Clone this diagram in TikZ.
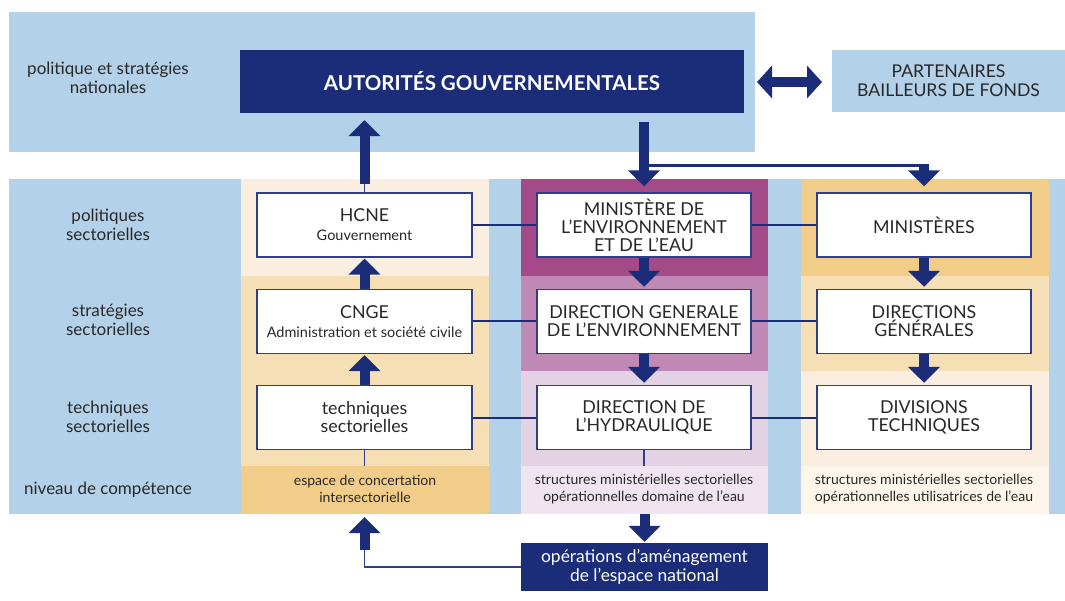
\documentclass[tikz,border=0pt]{standalone}
\usepackage{fontspec}
\setmainfont{Lato}
\usetikzlibrary{arrows.meta}

\definecolor{navy}{RGB}{27,45,120}
\definecolor{boxline}{RGB}{44,62,140}
\definecolor{bandblue}{RGB}{179,209,232}
\definecolor{ink}{RGB}{40,40,40}
% column 1 (concertation)
\definecolor{beigeA}{RGB}{250,238,224}
\definecolor{beigeB}{RGB}{246,223,181}
\definecolor{beigeC}{RGB}{242,205,137}
\definecolor{beigeD}{RGB}{253,245,234}
% column 2 (eau)
\definecolor{plumA}{RGB}{165,74,137}
\definecolor{plumB}{RGB}{192,136,180}
\definecolor{plumC}{RGB}{226,210,227}
\definecolor{plumD}{RGB}{239,228,239}

\newcommand\sublinefont{\fontsize{14.5}{16}\selectfont}

\begin{document}
\begin{tikzpicture}[x=1pt,y=-1pt,
  panel/.style={fill=#1,draw=none},
  unitbox/.style={draw=boxline,line width=1.4pt,fill=white,
    minimum width=214pt,minimum height=64pt,inner sep=0pt,align=center,
    text=ink,font=\fontsize{17.8}{18}\selectfont},
  darkbox/.style={fill=navy,draw=none,inner sep=0pt,align=center,text=white},
  rowlabel/.style={align=center,text=ink,font=\fontsize{17}{18.5}\selectfont},
  foot/.style={align=center,text=ink,font=\fontsize{14}{17}\selectfont},
  bigarrow/.style={draw=navy,line width=10pt,
    -{Triangle[width=31pt,length=16pt]}},
  twoway/.style={draw=navy,line width=10pt,
    {Triangle[width=32pt,length=15pt]}-{Triangle[width=32pt,length=15pt]}},
  link/.style={draw=navy,line width=2pt},
  feed/.style={draw=boxline,line width=1.4pt}]

\useasboundingbox (0,0) rectangle (1065,601);

% ---- background bands ----
\fill[bandblue] (9,12) rectangle (755,152);
\fill[bandblue] (9,179) rectangle (1065,514);

% column 1
\fill[beigeA] (241,179) rectangle (489,276);
\fill[beigeB] (241,276) rectangle (489,466);
\fill[beigeC] (241,466) rectangle (489,514);
% column 2
\fill[plumA] (521,179) rectangle (768,276);
\fill[plumB] (521,276) rectangle (768,371);
\fill[plumC] (521,371) rectangle (768,466);
\fill[plumD] (521,466) rectangle (768,514);
% column 3
\fill[beigeC] (801,179) rectangle (1049,276);
\fill[beigeB] (801,276) rectangle (1049,371);
\fill[beigeA] (801,371) rectangle (1049,466);
\fill[beigeD] (801,466) rectangle (1049,514);

% ---- top level ----
\node[darkbox,minimum width=504pt,minimum height=63pt,
      font=\bfseries\fontsize{20.5}{22}\selectfont] (aut) at (492,81.5)
      {AUTORITÉS GOUVERNEMENTALES};
\node[panel=bandblue,minimum width=233pt,minimum height=62pt,inner sep=0pt,
      align=center,text=ink,font=\fontsize{17.6}{19}\selectfont] (part) at (948.5,81)
      {PARTENAIRES\\BAILLEURS DE FONDS};
\draw[twoway] (757,82) -- (822,82);

% ---- row labels ----
\node[rowlabel] (lnat)  at (108,78)  {politique et stratégies\\nationales};
\node[rowlabel] (lpol)  at (108,225) {politiques\\sectorielles};
\node[rowlabel] (lstr)  at (108,320) {stratégies\\sectorielles};
\node[rowlabel] (ltech) at (108,417) {techniques\\sectorielles};
\node[rowlabel] (lniv)  at (108,490) {niveau de compétence};

% ---- boxes ----
\node[unitbox,minimum width=215pt] (hcne) at (364.5,225)
  {HCNE\\[1pt]{\sublinefont Gouvernement}};
\node[unitbox,minimum width=215pt] (cnge) at (364.5,321.5)
  {CNGE\\[1pt]{\sublinefont Administration et société civile}};
\node[unitbox,minimum width=215pt] (tech) at (364.5,417.5)
  {techniques\\sectorielles};

\node[unitbox] (mee) at (644,225)
  {MINISTÈRE DE\\L’ENVIRONNEMENT\\ET DE L’EAU};
\node[unitbox] (dge) at (644,321.5)
  {DIRECTION GENERALE\\DE L’ENVIRONNEMENT};
\node[unitbox] (dh) at (644,417.5)
  {DIRECTION DE\\L’HYDRAULIQUE};

\node[unitbox] (min) at (924,225) {MINISTÈRES};
\node[unitbox] (dirg) at (924,321.5) {DIRECTIONS\\GÉNÉRALES};
\node[unitbox] (div) at (924,417.5) {DIVISIONS\\TECHNIQUES};

% ---- footer texts ----
\node[foot] (fconc) at (365,489) {espace de concertation\\intersectorielle};
\node[foot] (feau)  at (644,489) {structures ministérielles sectorielles\\opérationnelles domaine de l’eau};
\node[foot] (futil) at (924,489) {structures ministérielles sectorielles\\opérationnelles utilisatrices de l’eau};

\node[darkbox,minimum width=247pt,minimum height=48pt,
      font=\fontsize{17.4}{19}\selectfont] (ops) at (644.5,567)
      {opérations d’aménagement\\de l’espace national};

% ---- horizontal links between columns ----
\draw[link] (hcne.east) -- (mee.west);
\draw[link] (mee.east) -- (min.west);
\draw[link] (cnge.east) -- (dge.west);
\draw[link] (dge.east) -- (dirg.west);
\draw[link] (tech.east) -- (dh.west);
\draw[link] (dh.east) -- (div.west);

% ---- vertical flows ----
% up to the government authorities
\draw[feed] (hcne.north) -- ++(0,-9);
\draw[bigarrow,shorten <=8pt,shorten >=7pt] (hcne.north) -- (hcne.north |- aut.south);
% down from the government authorities
\draw[bigarrow,shorten <=9pt,shorten >=6pt] (aut.south -| mee.north) -- (mee.north);
\draw[draw=navy,line width=3pt] (mee.north |- 0,166) -- (min.north |- 0,166);
\draw[bigarrow,shorten >=6pt] (min.north |- 0,164.5) -- (min.north);

% column 1 goes up
\draw[bigarrow,shorten >=1pt] (cnge.north) -- (hcne.south);
\draw[bigarrow,shorten >=1pt] (tech.north) -- (cnge.south);
% columns 2 and 3 go down
\draw[bigarrow,shorten >=2pt] (mee.south) -- (dge.north);
\draw[bigarrow,shorten >=2pt] (dge.south) -- (dh.north);
\draw[bigarrow,shorten >=2pt] (min.south) -- (dirg.north);
\draw[bigarrow,shorten >=2pt] (dirg.south) -- (div.north);

% ties to the footer row
\draw[feed] (tech.south) -- (tech.south |- 0,466);
\draw[feed] (dh.south) -- (dh.south |- 0,466);

% to the national planning operations
\draw[bigarrow,shorten >=1pt] (ops.north |- 0,514) -- (ops.north);
% feedback into the concertation space
\draw[feed] (ops.west) -| (tech.south |- 0,550);
\draw[bigarrow,shorten >=3pt] (tech.south |- 0,550) -- (tech.south |- 0,514);

\end{tikzpicture}
\end{document}
